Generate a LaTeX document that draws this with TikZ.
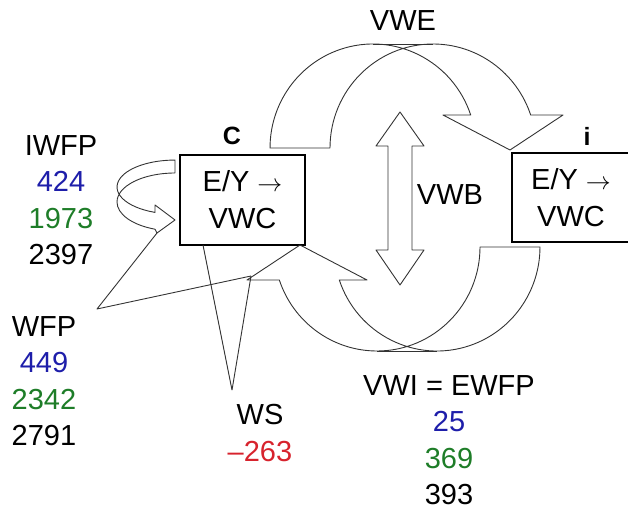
\documentclass[tikz,border=0pt]{standalone}
\usepackage{fontspec}
\setmainfont{Liberation Sans}
\usepackage{xcolor}
\definecolor{numblue}{RGB}{30,30,170}
\definecolor{numgreen}{RGB}{30,125,40}
\definecolor{numred}{RGB}{215,35,45}

\begin{document}
\begin{tikzpicture}[x=1pt, y=-1pt,
  outline/.style={draw=black!80, line width=0.9pt, line join=round},
  wbox/.style={draw=black, line width=2.2pt, inner sep=0pt, align=center,
    font=\fontsize{29}{37}\selectfont},
  lbl/.style={inner sep=0pt, align=center, font=\fontsize{29}{36.5}\selectfont},
  tag/.style={inner sep=0pt, font=\fontsize{25}{30}\selectfont\bfseries}]
\useasboundingbox (0,0) rectangle (628,510);
% 两个国家
\node[wbox, minimum width=125pt, minimum height=90pt] (boxC) at (242.5,200) {E/Y $\rightarrow$\\VWC};
\node[wbox, minimum width=118pt, minimum height=89pt] (boxI) at (571,197.5) {E/Y $\rightarrow$\\VWC};
\node[tag] (tagC) at (232,136) {C};
\node[tag] (tagI) at (587,136) {i};
% 上方弯箭头 VWE
\draw[outline] (330,148) arc[start angle=180, end angle=18.5, x radius=103pt, y radius=104pt]
  -- (563,115) -- (510,150) -- (443,115) -- (470.7,115)
  arc[start angle=18.5, end angle=180, x radius=103pt, y radius=104pt] -- cycle;
\draw[outline] (373,44) -- (433,44);
\node[lbl] (vwe) at (403,21) {VWE};
% 下方弯箭头
\draw[outline] (480,247) arc[start angle=0, end angle=-161.5, x radius=103pt, y radius=104pt]
  -- (247,280) -- (300,245) -- (367,280) -- (339.3,280)
  arc[start angle=-161.5, end angle=0, x radius=103pt, y radius=104pt] -- cycle;
\draw[outline] (377,351) -- (437,351);
% 双向箭头 VWB
\draw[outline] (400,112) -- (424,146) -- (412,146) -- (412,250) -- (424,250) -- (400,285)
  -- (376,250) -- (388,250) -- (388,146) -- (376,146) -- cycle;
\node[lbl] (vwb) at (450,195) {VWB};
% 小弯箭头 IWFP
\draw[outline] (175,173) arc[start angle=90, end angle=249.8, x radius=58pt, y radius=29pt]
  -- (157,233) -- (175,220) -- (155,205) -- (155,212.4)
  arc[start angle=249.8, end angle=90, x radius=58pt, y radius=27pt] -- cycle;
\coordinate (iwfpwing) at (157,233);
\coordinate (vwiwing) at (251,276);
\coordinate (wsfoot) at (203,245);
% 标注尖角
\coordinate (wfptip) at (97,309);
\coordinate (wstip) at (232,390);
\draw[outline] (iwfpwing) -- (wfptip) -- (vwiwing);
\draw[outline] (wsfoot) -- (wstip) -- (vwiwing);
% 数值
\node[lbl] (iwfp) at (61,200) {IWFP\\\textcolor{numblue}{424}\\\textcolor{numgreen}{1973}\\2397};
\node[lbl] (wfp) at (44,381) {WFP\\\textcolor{numblue}{449}\\\textcolor{numgreen}{2342}\\2791};
\node[lbl] (ws) at (260,433) {WS\\\textcolor{numred}{–263}};
\node[lbl] (vwi) at (449,440) {VWI = EWFP\\\textcolor{numblue}{25}\\\textcolor{numgreen}{369}\\393};
\end{tikzpicture}
\end{document}
